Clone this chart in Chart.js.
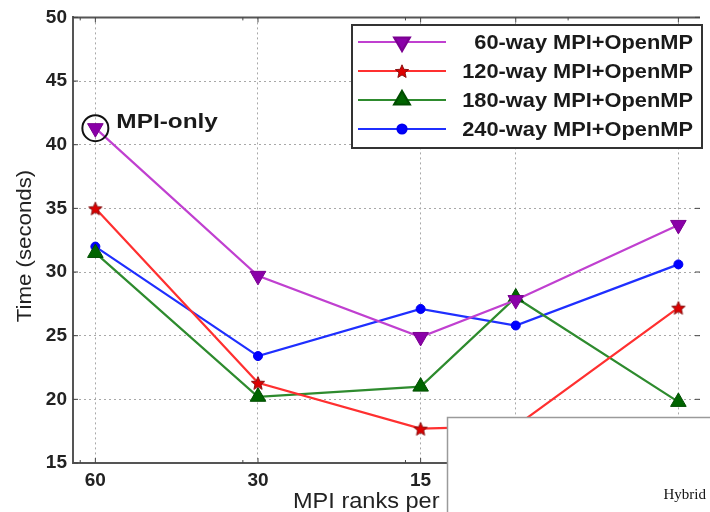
<!DOCTYPE html>
<html><head><meta charset="utf-8">
<script src="https://cdn.jsdelivr.net/npm/chart.js@4/dist/chart.umd.min.js"></script>
<style>html,body{margin:0;padding:0;background:#fff;}#wrap{width:710px;height:512px;position:relative}</style>
</head><body><div id="wrap"><canvas id="c" width="710" height="512"></canvas></div>
<script>
const categories = [60, 30, 15, 10, 5];
const mpi60  = [41.3, 29.7, 24.9, 27.8, 33.7];
const mpi120 = [35.0, 21.3, 17.7, 17.9, 27.2];
const mpi180 = [31.5, 20.2, 21.0, 28.0, 19.8];
const mpi240 = [32.0, 23.4, 27.1, 25.8, 30.6];
const seriesLabels = ['60-way MPI+OpenMP', '120-way MPI+OpenMP', '180-way MPI+OpenMP', '240-way MPI+OpenMP'];
const yTicks = [15, 20, 25, 30, 35, 40, 45, 50];
const minorX = [64, 32, 16, 8];
const xTitle = 'MPI ranks per';
const yTitle = 'Time (seconds)';
const annotationText = 'MPI-only';
const overlayText = 'Hybrid';

const FONT = '"Liberation Sans", Arial, Helvetica, sans-serif';

function starCanvas(size, fill, stroke) {
  const c = document.createElement('canvas');
  c.width = c.height = size;
  const g = c.getContext('2d');
  const cx = size / 2, cy = size / 2 + 0.8, R = size / 2 - 1, r = R * 0.45;
  g.beginPath();
  for (let i = 0; i < 10; i++) {
    const a = -Math.PI / 2 + i * Math.PI / 5;
    const rr = i % 2 ? r : R;
    g.lineTo(cx + rr * Math.cos(a), cy + rr * Math.sin(a));
  }
  g.closePath();
  g.fillStyle = fill; g.fill();
  g.strokeStyle = stroke; g.lineWidth = 1; g.stroke();
  return c;
}
const star = starCanvas(16, '#dd0000', '#881111');

const styles = [
  {line: '#c040d0', fill: '#8a00a8', edge: '#7a0090', pointStyle: 'triangle', rotation: 180, radius: 9},
  {line: '#ff3030', fill: '#dd0000', edge: '#881111', pointStyle: star, rotation: 0, radius: 7},
  {line: '#2e8b2e', fill: '#006400', edge: '#004d00', pointStyle: 'triangle', rotation: 0, radius: 9},
  {line: '#1f2fff', fill: '#0000ff', edge: '#0000ee', pointStyle: 'circle', rotation: 0, radius: 4.5}
];
const values = [mpi60, mpi120, mpi180, mpi240];

const datasets = values.map((vals, i) => ({
  label: seriesLabels[i],
  data: categories.map((c, j) => ({x: c, y: vals[j]})),
  borderColor: styles[i].line,
  borderWidth: 2.2,
  backgroundColor: styles[i].fill,
  pointBackgroundColor: styles[i].fill,
  pointBorderColor: styles[i].edge,
  pointBorderWidth: 1,
  pointStyle: styles[i].pointStyle,
  pointRotation: styles[i].rotation,
  pointRadius: styles[i].radius,
  tension: 0,
  fill: false
}));

function drawMarker(ctx, st, x, y) {
  ctx.save();
  if (st.pointStyle instanceof HTMLCanvasElement) {
    ctx.drawImage(st.pointStyle, x - st.pointStyle.width / 2, y - st.pointStyle.height / 2);
  } else {
    Chart.helpers.drawPoint(ctx, {pointStyle: st.pointStyle, rotation: st.rotation, radius: st.radius, borderWidth: 1}, x, y);
  }
  ctx.restore();
}

function stretchText(ctx, text, x, y, sx, align) {
  ctx.save();
  ctx.translate(x, y);
  ctx.scale(sx, 1);
  ctx.textAlign = align;
  ctx.fillText(text, 0, 0);
  ctx.restore();
}

const overlay = {
  id: 'overlay',
  afterDraw(chart) {
    const ctx = chart.ctx;
    const a = chart.chartArea;
    const xs = chart.scales.x, ys = chart.scales.y;
    ctx.save();
    ctx.strokeStyle = '#555'; ctx.lineWidth = 2;
    ctx.beginPath(); ctx.moveTo(a.left, a.top); ctx.lineTo(a.right, a.top); ctx.stroke();
    ctx.lineWidth = 1; ctx.strokeStyle = '#444';
    ctx.beginPath();
    categories.forEach(v => { const px = xs.getPixelForValue(v); ctx.moveTo(px, a.bottom); ctx.lineTo(px, a.bottom - 5); ctx.moveTo(px, a.top); ctx.lineTo(px, a.top + 5); });
    minorX.forEach(v => { const px = xs.getPixelForValue(v); ctx.moveTo(px, a.bottom); ctx.lineTo(px, a.bottom - 3); ctx.moveTo(px, a.top); ctx.lineTo(px, a.top + 3); });
    yTicks.forEach(v => { const py = ys.getPixelForValue(v); ctx.moveTo(a.left, py); ctx.lineTo(a.left + 5, py); ctx.moveTo(a.right, py); ctx.lineTo(a.right - 5, py); });
    ctx.stroke();

    const lx = 352, ly = 25, lw = 350, lh = 123;
    ctx.fillStyle = '#fff'; ctx.fillRect(lx, ly, lw, lh);
    ctx.strokeStyle = '#333'; ctx.lineWidth = 2; ctx.strokeRect(lx, ly, lw, lh);
    const rows = [42, 71, 100, 129];
    ctx.font = 'bold 20px ' + FONT;
    ctx.textBaseline = 'middle';
    seriesLabels.forEach((lab, i) => {
      const y = rows[i];
      ctx.strokeStyle = styles[i].line; ctx.lineWidth = 2.2;
      ctx.beginPath(); ctx.moveTo(358, y); ctx.lineTo(446, y); ctx.stroke();
      ctx.fillStyle = styles[i].fill; ctx.strokeStyle = styles[i].edge;
      drawMarker(ctx, styles[i], 402, y);
      ctx.fillStyle = '#1a1a1a';
      stretchText(ctx, lab, 693, y + 1, 1.09, 'right');
    });

    const px = xs.getPixelForValue(categories[0]), py = ys.getPixelForValue(mpi60[0]);
    ctx.strokeStyle = '#111'; ctx.lineWidth = 2;
    ctx.beginPath(); ctx.arc(px, py, 13, 0, Math.PI * 2); ctx.stroke();
    ctx.fillStyle = '#1a1a1a'; ctx.font = 'bold 21px ' + FONT;
    ctx.textBaseline = 'middle';
    stretchText(ctx, annotationText, px + 21, py - 6, 1.16, 'left');

    ctx.fillStyle = '#222'; ctx.font = '22px ' + FONT;
    ctx.textBaseline = 'alphabetic';
    stretchText(ctx, xTitle, 293, 508, 1.07, 'left');
    ctx.save();
    ctx.translate(31, 246); ctx.rotate(-Math.PI / 2);
    ctx.font = '21px ' + FONT;
    stretchText(ctx, yTitle, 0, 0, 1.06, 'center');
    ctx.restore();

    ctx.fillStyle = '#fff'; ctx.fillRect(447, 417, 263, 95);
    ctx.strokeStyle = '#9a9a9a'; ctx.lineWidth = 1.5;
    ctx.beginPath(); ctx.moveTo(447.5, 512); ctx.lineTo(447.5, 417.5); ctx.lineTo(710, 417.5); ctx.stroke();
    ctx.fillStyle = '#111'; ctx.font = '15px "Liberation Serif", "Times New Roman", serif';
    ctx.textAlign = 'right'; ctx.textBaseline = 'alphabetic';
    ctx.fillText(overlayText, 706, 499);
    ctx.restore();
  }
};

new Chart(document.getElementById('c'), {
  type: 'line',
  data: {datasets},
  plugins: [overlay],
  options: {
    responsive: false,
    animation: false,
    devicePixelRatio: 1,
    layout: {padding: {top: 17, right: 1, left: 0, bottom: 0}},
    plugins: {legend: {display: false}, tooltip: {enabled: false}},
    scales: {
      x: {
        type: 'logarithmic',
        reverse: true,
        min: 4.56,
        max: 66,
        afterFit: s => { s.height = 49; },
        afterBuildTicks: s => { s.ticks = categories.map(v => ({value: v})); },
        grid: {color: '#a8a8a8', lineWidth: 1, drawTicks: false},
        border: {display: true, color: '#555', width: 2, dash: [2, 3]},
        ticks: {
          callback: v => String(v),
          color: '#222',
          font: {family: FONT, size: 19, weight: 'bold'},
          padding: 6,
          autoSkip: false,
          maxRotation: 0
        }
      },
      y: {
        type: 'linear',
        min: 15, max: 50,
        afterFit: s => { s.width = 73; },
        afterBuildTicks: s => { s.ticks = yTicks.map(v => ({value: v})); },
        grid: {color: '#a8a8a8', lineWidth: 1, drawTicks: false},
        border: {display: true, color: '#555', width: 2, dash: [2, 3]},
        ticks: {
          callback: v => String(v),
          color: '#222',
          font: {family: FONT, size: 19, weight: 'bold'},
          padding: 6
        }
      }
    }
  }
});
</script>
</body></html>
